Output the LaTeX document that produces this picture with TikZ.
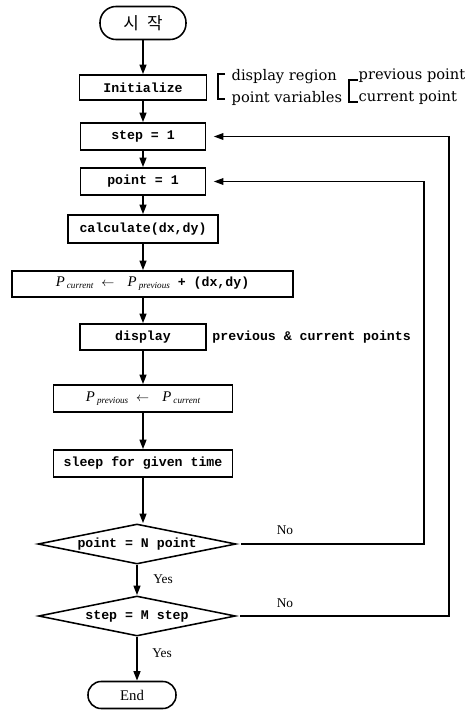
\documentclass[tikz,border=0pt]{standalone}
\usepackage{fontspec}
\setmainfont{Liberation Serif}
\setmonofont{Liberation Mono}
\newfontfamily\hangul{Noto Sans CJK KR}
\newfontfamily\notefont{DejaVu Serif}
\usetikzlibrary{arrows.meta,positioning,shapes.geometric}

\newcommand{\pvar}[1]{\textrm{\mdseries\itshape\fontsize{10.5}{11}\selectfont P\kern1.5pt\raisebox{-0.3ex}{\fontsize{6.5}{7}\selectfont #1}}}

\begin{document}
\begin{tikzpicture}[x=0.025cm, y=-0.025cm,
    box/.style={draw, line width=1.1pt, minimum height=0.675cm, inner sep=1pt,
      font=\ttfamily\bfseries\fontsize{9.4}{10}\selectfont},
    remark/.style={inner sep=1pt, font=\ttfamily\bfseries\fontsize{9.4}{10}\selectfont},
    terminal/.style={draw, line width=1.1pt, minimum height=0.675cm, rounded corners=0.33cm, inner sep=1pt},
    decision/.style={draw, diamond, aspect=5, line width=1.1pt, minimum height=1cm, inner sep=0pt,
      font=\ttfamily\bfseries\fontsize{9.4}{10}\selectfont},
    flow/.style={-{Triangle[length=2.4mm,width=1.7mm]}, line width=1.3pt},
    loopback/.style={-{Triangle[length=2.4mm,width=1.7mm]}, line width=0.8pt, shorten <=1mm, shorten >=1.9mm},
    bracket/.style={line width=0.8pt},
    answer/.style={inner sep=1pt, font=\fontsize{9.5}{10}\selectfont},
    note/.style={inner sep=1pt, font=\notefont\fontsize{10.4}{11}\selectfont}]
  \useasboundingbox (0,0) rectangle (475,710);

  % main column
  \node[terminal, minimum width=2.15cm, minimum height=0.825cm, rounded corners=0.4cm,
    font=\hangul\fontsize{12}{12}\selectfont] (start) at (143,23) {시\hspace{0.5em}작};
  \node[box, minimum width=3.175cm, minimum height=0.625cm] (init) at (143,87.5) {Initialize};
  \node[box, minimum width=3.125cm] (step1) at (143,136.5) {step = 1};
  \node[box, minimum width=3.125cm] (point1) at (143,181.5) {point = 1};
  \node[box, minimum width=3.75cm, minimum height=0.7cm] (calc) at (143,229) {calculate(dx,dy)};
  \node[box, minimum width=7.025cm, minimum height=0.65cm] (pcur) at (152.5,284)
    {\pvar{current}\ $\leftarrow$\quad\pvar{previous}\ + (dx,dy)};
  \node[box, minimum width=3.15cm, minimum height=0.65cm] (disp) at (143,337) {display};
  \node[remark, right=1mm of disp] (dispnote) {previous \& current points};
  \node[box, minimum width=4.475cm] (pprev) at (143,398.5) {\pvar{previous}\ $\leftarrow$\quad\pvar{current}};
  \node[box, minimum width=4.475cm] (sleep) at (143,463.5) {sleep for given time};
  \node[decision, minimum width=4.95cm] (ptest) at (137,544) {point = N point};
  \node[decision, minimum width=4.925cm] (stest) at (137,616) {step = M step};
  \node[terminal, minimum width=2.2cm, font=\fontsize{10.5}{11}\selectfont] (finish) at (132,695) {End};

  \draw[flow] (start) -- (init);
  \draw[flow] (init) -- (step1);
  \draw[flow] (step1) -- (point1);
  \draw[flow] (point1) -- (calc);
  \draw[flow] (calc) -- (calc |- pcur.north);
  \draw[flow] (calc |- pcur.south) -- (disp);
  \draw[flow] (disp) -- (pprev);
  \draw[flow] (pprev) -- (sleep);
  \draw[flow] (sleep) -- (sleep |- ptest.north);
  \draw[flow] (ptest) -- (stest);
  \draw[flow] (stest.south) -- (stest.south |- finish.north);
  \node[answer] (yes1) at (163,579) {Yes};
  \node[answer] (yes2) at (162,653) {Yes};

  % loops back
  \coordinate (pturn) at (424,0);
  \coordinate (sturn) at (449,0);
  \draw[loopback] (ptest.east) -- (ptest.east -| pturn) |- (point1.east);
  \draw[loopback] (stest.east) -- (stest.east -| sturn) |- (step1.east);
  \node[answer] (no1) at (285,530) {No};
  \node[answer] (no2) at (285,603) {No};

  % initialize notes
  \draw[bracket] (225,74) -| (218,99) -- (225,99);
  \node[note, anchor=west] (region) at (230,77) {display region};
  \node[note, anchor=west] (pointvars) at (230,98) {point variables};
  \draw[bracket] (358,80) -| (349,102) -- (358,102);
  \node[note, anchor=west] (prevpt) at (357,76) {previous point};
  \node[note, anchor=west] (curpt) at (357,98) {current point};
\end{tikzpicture}
\end{document}
